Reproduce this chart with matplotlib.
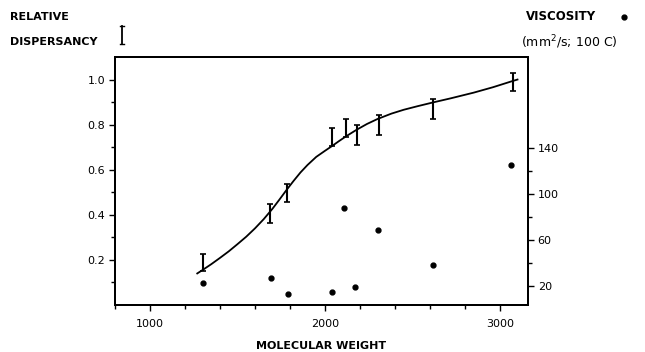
import matplotlib
matplotlib.use('Agg')
import matplotlib.pyplot as plt
from matplotlib.lines import Line2D
from matplotlib.ticker import MultipleLocator, FixedLocator

# relative dispersancy (error bars) vs molecular weight
disp_mw = [1300, 1685, 1780, 2040, 2120, 2183, 2308, 2617, 3072]
disp_lo = [0.152, 0.363, 0.455, 0.705, 0.745, 0.71, 0.754, 0.824, 0.947]
disp_hi = [0.226, 0.446, 0.538, 0.785, 0.824, 0.798, 0.842, 0.912, 1.031]

# fitted curve
curve_mw = [1270, 1300, 1350, 1400, 1450, 1500, 1550, 1600, 1650, 1700,
            1740, 1780, 1820, 1860, 1900, 1950, 2000, 2040, 2080, 2120,
            2180, 2240, 2300, 2380, 2450, 2530, 2620, 2720, 2850, 2960,
            3070, 3100]
curve_val = [0.14, 0.155, 0.181, 0.209, 0.238, 0.27, 0.303, 0.34, 0.381, 0.427,
             0.468, 0.51, 0.55, 0.588, 0.621, 0.657, 0.684, 0.705, 0.727, 0.748,
             0.777, 0.803, 0.825, 0.849, 0.866, 0.882, 0.899, 0.917, 0.942, 0.966,
             0.993, 1.0]

# viscosity (dots)
visc_mw = [1300, 1690, 1790, 2040, 2110, 2170, 2303, 2617, 3063]
visc = [22.6, 27, 13, 14.8, 87.8, 19, 68.7, 38, 125]

fig = plt.figure(figsize=(6.45, 3.52), dpi=100)
ax = fig.add_axes([115/645, 1 - 305/352, 413/645, 248/352])

ax.plot(curve_mw, curve_val, color='black', lw=1.3, solid_joinstyle='round')
mid = [(a + b) / 2 for a, b in zip(disp_lo, disp_hi)]
err = [[m - a for m, a in zip(mid, disp_lo)], [b - m for m, b in zip(mid, disp_hi)]]
ax.errorbar(disp_mw, mid, yerr=err, fmt='none', ecolor='black',
            elinewidth=1.5, capsize=2.5, capthick=1.2)

ax.set_xlim(800, 3160)
ax.set_ylim(0, 1.1)
ax.xaxis.set_major_locator(FixedLocator([1000, 2000, 3000]))
ax.xaxis.set_minor_locator(MultipleLocator(200))
ax.yaxis.set_major_locator(FixedLocator([0.2, 0.4, 0.6, 0.8, 1.0]))
ax.yaxis.set_minor_locator(FixedLocator([0.1, 0.3, 0.5, 0.7, 0.9]))
ax.set_yticklabels(['0.2', '0.4', '0.6', '0.8', '1.0'])

ax2 = ax.twinx()
ax2.plot(visc_mw, visc, 'o', color='black', ms=3.5)
ax2.set_ylim(3.5, 219)
ax2.yaxis.set_major_locator(FixedLocator([20, 60, 100, 140]))
ax2.yaxis.set_minor_locator(FixedLocator([40, 80, 120]))

for a in (ax, ax2):
    for s in a.spines.values():
        s.set_linewidth(1.4)
    a.tick_params(which='both', direction='out', width=1, labelsize=8, pad=3)
    a.tick_params(which='major', length=4)
    a.tick_params(which='minor', length=3)
ax.tick_params(axis='x', pad=6)

ax.set_xlabel('MOLECULAR WEIGHT', fontsize=8, fontweight='bold', labelpad=9)

fig.text(10/645, 1 - 17/352, 'RELATIVE', fontsize=8, fontweight='bold', va='center')
fig.text(10/645, 1 - 42/352, 'DISPERSANCY', fontsize=8, fontweight='bold', va='center')
fig.text(526/645, 1 - 17/352, 'VISCOSITY', fontsize=8.5, fontweight='bold', va='center')
fig.text(521/645, 1 - 42/352, '(mm$^2$/s; 100 C)', fontsize=9, va='center')

# legend keys
kx = 122/645
fig.add_artist(Line2D([kx, kx], [1 - 26/352, 1 - 44/352], color='black', lw=1.3))
for yy in (26, 44):
    fig.add_artist(Line2D([kx - 2/645, kx + 2/645], [1 - yy/352, 1 - yy/352],
                          color='black', lw=1))
fig.add_artist(Line2D([624/645], [1 - 17/352], marker='o', color='black', ms=3.5))

fig.savefig('out.png', dpi=100)
